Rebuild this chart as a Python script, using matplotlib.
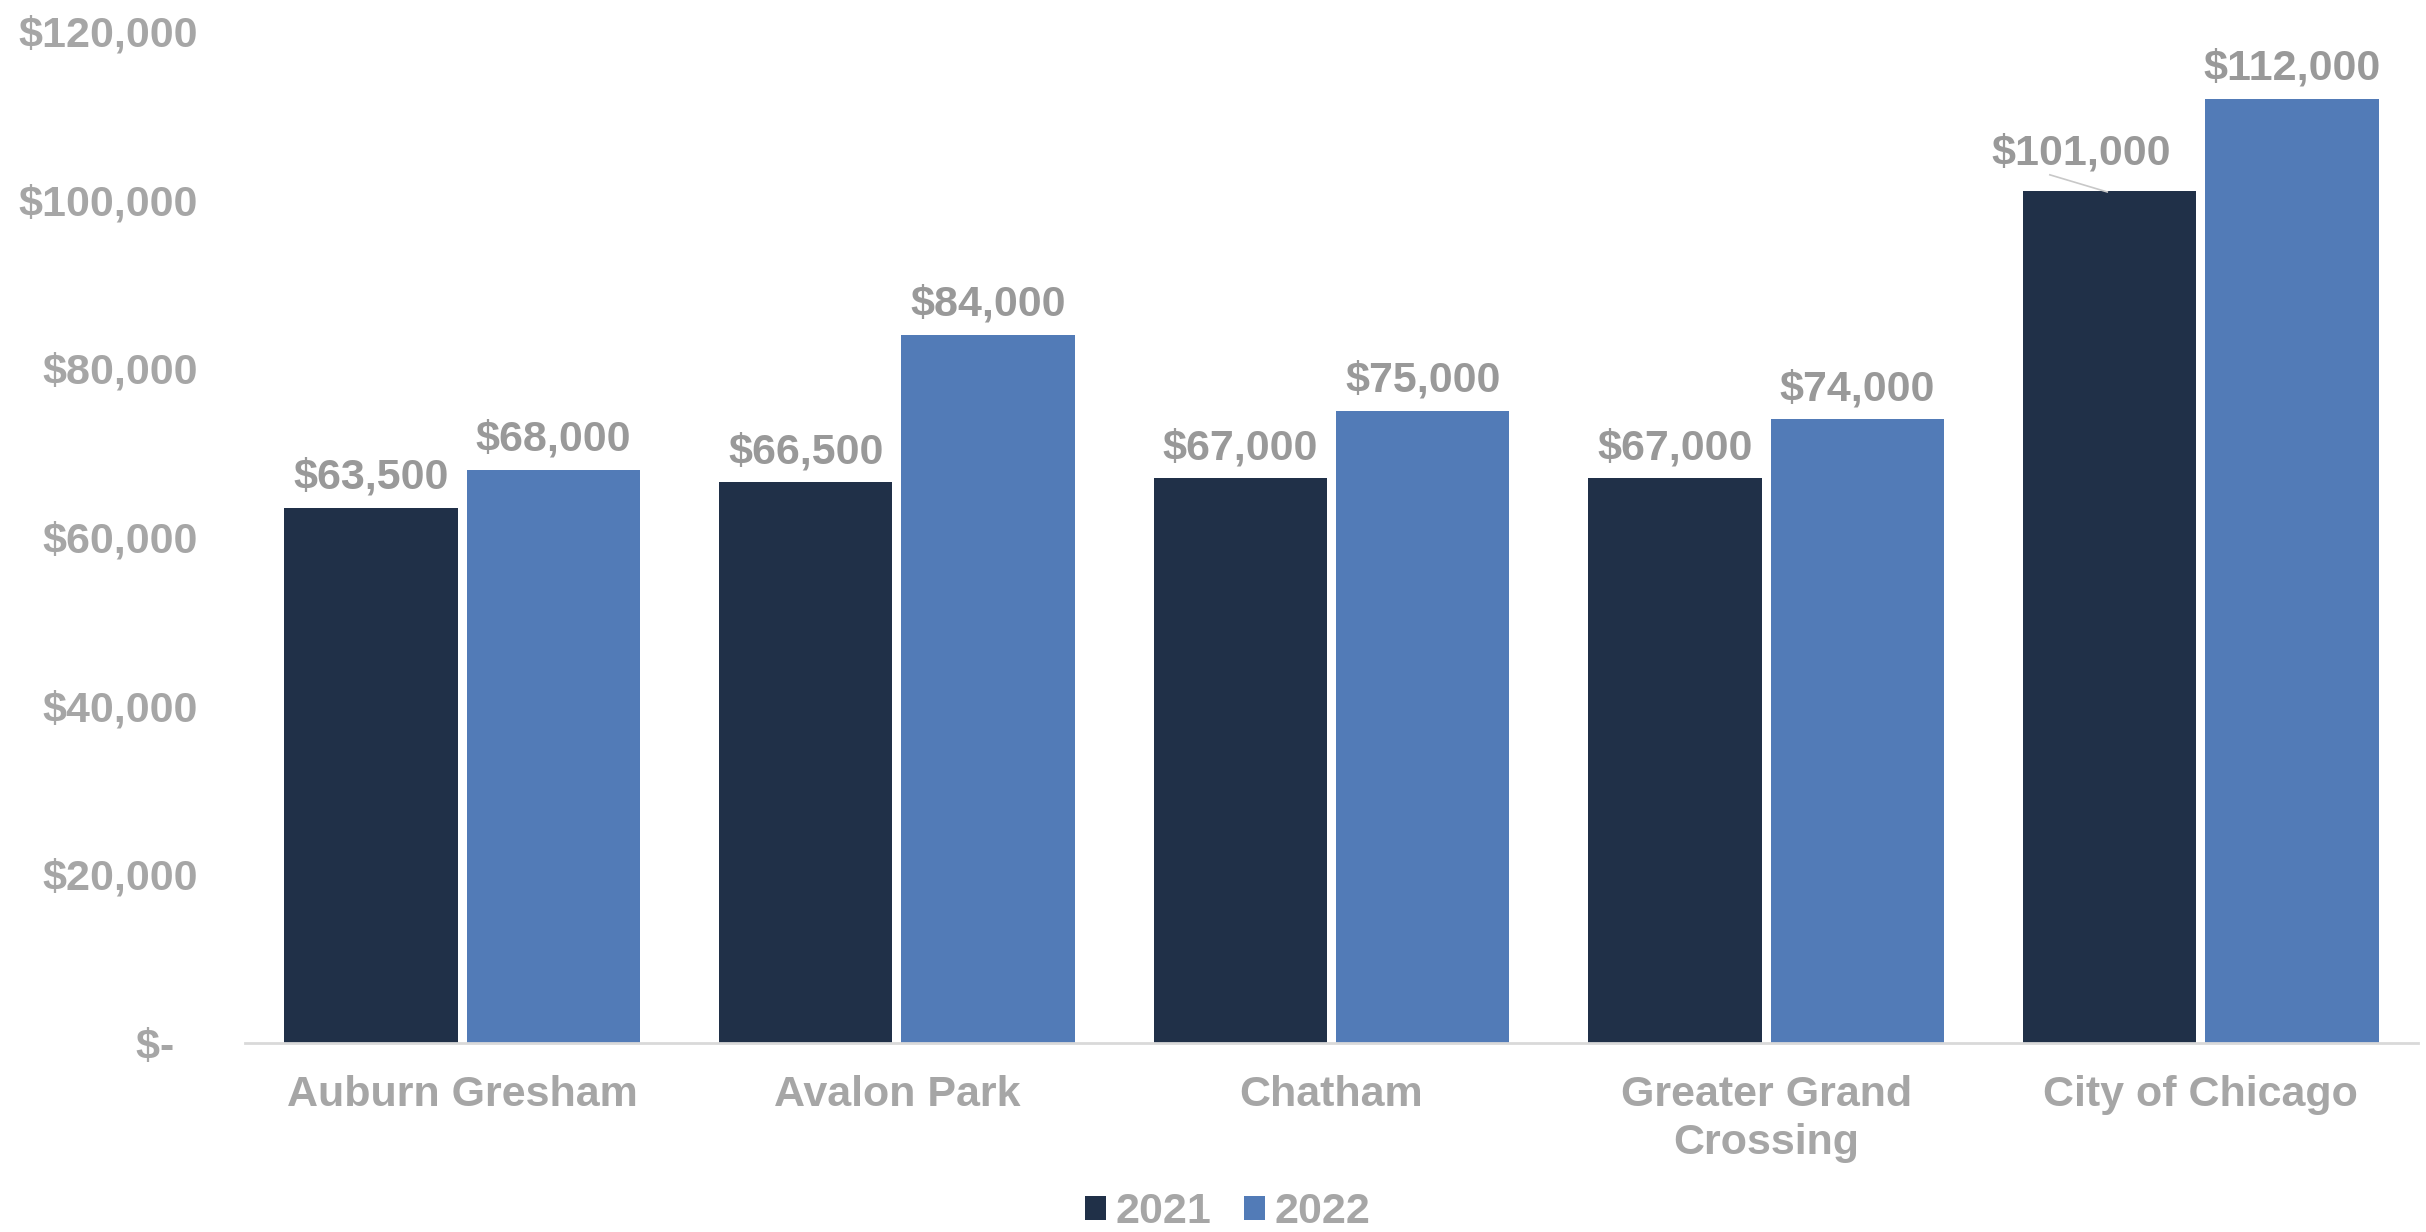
import matplotlib
matplotlib.use("Agg")
import matplotlib.pyplot as plt
import numpy as np

categories = ["Auburn Gresham", "Avalon Park", "Chatham", "Greater Grand\nCrossing", "City of Chicago"]
income_2021 = [63500, 66500, 67000, 67000, 101000]
income_2022 = [68000, 84000, 75000, 74000, 112000]
yticks = [0, 20000, 40000, 60000, 80000, 100000, 120000]

navy = "#203048"
blue = "#527BB7"
tick_grey = "#A6A6A6"
label_grey = "#999999"

plt.rcParams["font.family"] = ["Liberation Sans", "DejaVu Sans"]
plt.rcParams["font.weight"] = "bold"

fig = plt.figure(figsize=(24.26, 12.32), dpi=100)
ax = fig.add_axes([0.101, 0.1534, 0.8957, 0.8214])

x = np.arange(len(categories))
w = 0.399
off = 0.21
b1 = ax.bar(x - off, income_2021, w, color=navy, label="2021")
b2 = ax.bar(x + off, income_2022, w, color=blue, label="2022")

def money(v):
    return "$-  " if v == 0 else "${:,.0f}".format(v)

fs = 31
for i, v in enumerate(income_2021):
    if i == len(income_2021) - 1:
        # label pushed up-left with a leader line
        ax.plot([x[i] - off - 0.137, x[i] - off - 0.005], [v + 1950, v - 80],
                color="#C8C8C8", lw=1.2, zorder=3)
        ax.text(x[i] - off - 0.066, v + 4500, money(v), ha="center", va="center",
                fontsize=fs, fontweight="bold", color=label_grey)
    else:
        ax.annotate(money(v), (x[i] - off, v), xytext=(0, 7), textcoords="offset points",
                    ha="center", va="bottom", fontsize=fs, fontweight="bold", color=label_grey)
for i, v in enumerate(income_2022):
    ax.annotate(money(v), (x[i] + off, v), xytext=(0, 7), textcoords="offset points",
                ha="center", va="bottom", fontsize=fs, fontweight="bold", color=label_grey)

ax.set_xlim(-0.5, len(categories) - 0.5)
ax.set_ylim(0, 120000)
ax.set_yticks(yticks)
ax.set_yticklabels([money(v) for v in yticks])
ax.set_xticks(x)
ax.set_xticklabels(categories, linespacing=1.27)

ax.tick_params(axis="y", length=0, pad=34, labelsize=fs, labelcolor=tick_grey)
ax.tick_params(axis="x", length=0, pad=23, labelsize=fs, labelcolor=tick_grey)
for t in ax.get_xticklabels() + ax.get_yticklabels():
    t.set_fontweight("bold")

for s in ["top", "right", "left"]:
    ax.spines[s].set_visible(False)
ax.spines["bottom"].set_color("#D9D9D9")
ax.spines["bottom"].set_linewidth(2)

leg = fig.legend(handles=[b1, b2], loc="center", bbox_to_anchor=(0.506, 0.016), ncol=2,
                 frameon=False, fontsize=fs, handlelength=0.5, handleheight=0.5,
                 handletextpad=0.22, columnspacing=0.75, borderpad=0.1)
for t in leg.get_texts():
    t.set_color(tick_grey)
    t.set_fontweight("bold")

fig.savefig("out.png", dpi=100)
